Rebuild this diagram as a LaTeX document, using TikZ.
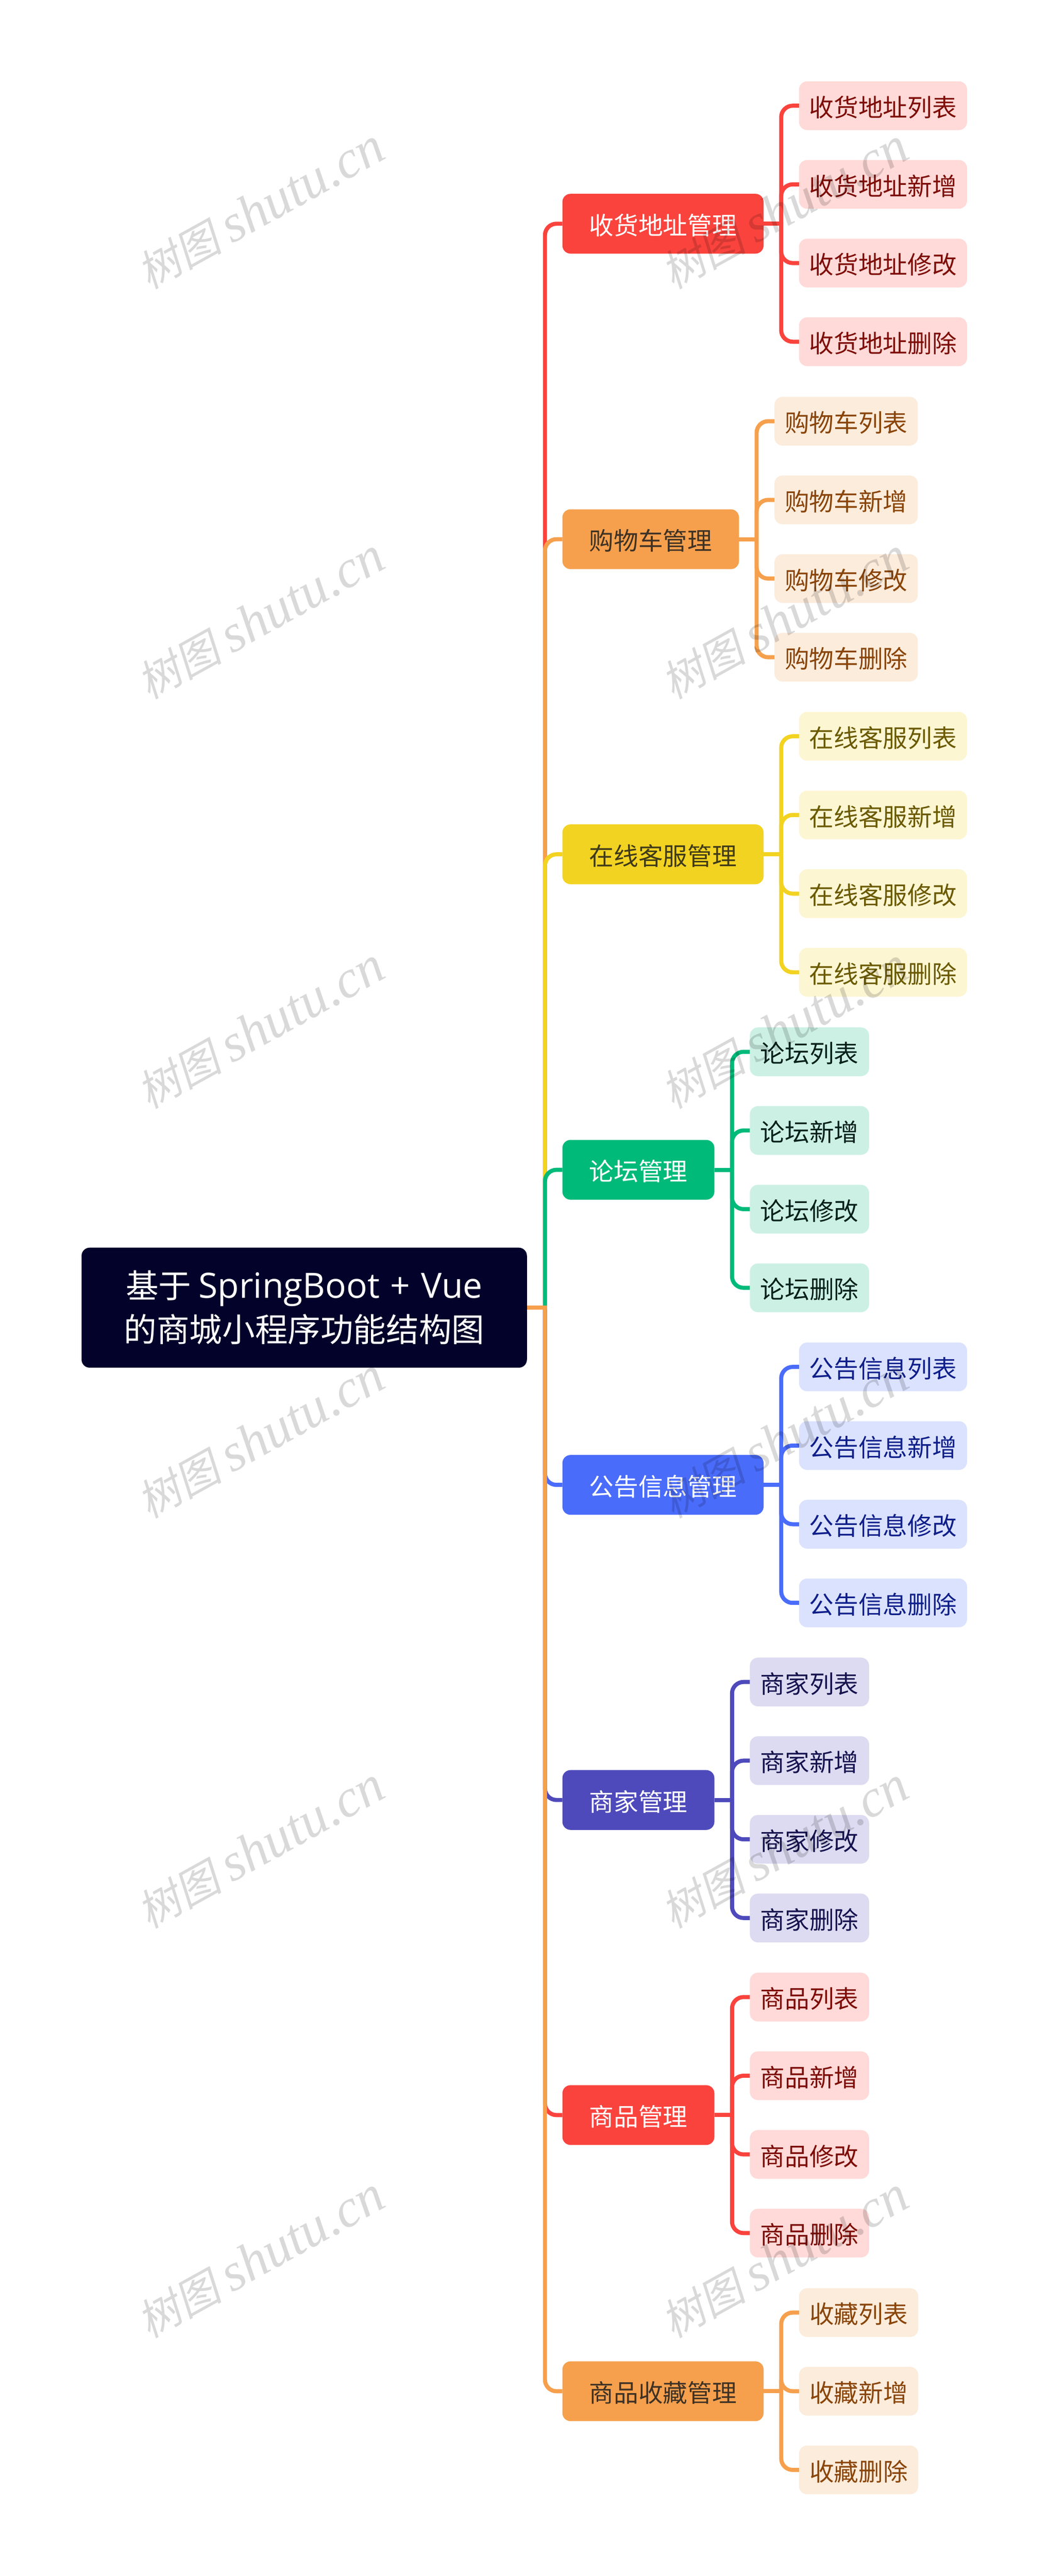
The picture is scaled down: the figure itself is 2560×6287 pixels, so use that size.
\documentclass[tikz,border=0pt]{standalone}
\usepackage{fontspec}
\setmainfont{Noto Sans CJK SC}
\newfontfamily\wmcjk[FakeSlant=0.2]{Noto Sans CJK SC}
\newfontfamily\wmlat{Liberation Serif}
\newfontfamily\rootlat[WordSpace=1.2]{Open Sans}
\definecolor{lineR}{HTML}{FA433D}\definecolor{leafR}{HTML}{FFDAD8}\definecolor{inkR}{HTML}{7E0D08}\definecolor{headR}{HTML}{FFFFFF}
\definecolor{lineO}{HTML}{F6A04D}\definecolor{leafO}{HTML}{FCECDC}\definecolor{inkO}{HTML}{8A4509}\definecolor{headO}{HTML}{3E3226}
\definecolor{lineY}{HTML}{F3D321}\definecolor{leafY}{HTML}{FDF6D3}\definecolor{inkY}{HTML}{6B5A00}\definecolor{headY}{HTML}{3F3A1A}
\definecolor{lineG}{HTML}{00BA7A}\definecolor{leafG}{HTML}{CCF1E4}\definecolor{inkG}{HTML}{06201A}\definecolor{headG}{HTML}{FFFFFF}
\definecolor{lineB}{HTML}{4A6CFB}\definecolor{leafB}{HTML}{DBE2FE}\definecolor{inkB}{HTML}{0F1F8A}\definecolor{headB}{HTML}{FFFFFF}
\definecolor{lineI}{HTML}{4E4ABB}\definecolor{leafI}{HTML}{DCDBF1}\definecolor{inkI}{HTML}{16134F}\definecolor{headI}{HTML}{FFFFFF}
\definecolor{rootfill}{HTML}{02022A}
\tikzset{
  boxbase/.style={inner sep=0pt,outer sep=0pt,rounded corners=10pt,anchor=west,align=center,
    text height=28.4pt,text depth=1.6pt,font=\fontsize{30pt}{36pt}\selectfont},
  headbox/.style={boxbase,minimum height=73pt},
  leafbox/.style={boxbase,minimum height=59.5pt},
  stub/.style={line width=5pt},
  wire/.style={line width=5pt,rounded corners=14pt},
  mark text/.style={text=black,text opacity=0.15,rotate=29,anchor=center,inner sep=0pt}
}
% #1 id, #2 centre y, #3 head width, #4 leaf width, #5 palette, #6 head text, #7 leaf prefix, #8 leaf list
\newcommand{\grp}[8]{%
  \node[headbox,fill=line#5,text=head#5,minimum width={#3*0.5pt}] (g#1) at (1372.5,#2) {#6};
  \draw[wire,draw=line#5] (trunk) |- (g#1.west);
  \draw[stub,draw=line#5] (root.east) -- ([xshift=2.5pt]trunk);
  \coordinate (b#1) at ([xshift=21.5pt]g#1.east);
  \draw[stub,draw=line#5] (g#1.east) -- ([xshift=2.5pt]b#1);
  \foreach \k/\off/\suf in #8 {
    \node[leafbox,fill=leaf#5,text=ink#5,minimum width={#4*0.5pt}] (g#1-\k) at ({1372.5+#3+86.5},{#2+\off}) {#7\suf};
    \draw[wire,draw=line#5] (b#1) |- (g#1-\k.west);
  }
}
\begin{document}
\begin{tikzpicture}[x=0.5pt,y=-0.5pt]
\useasboundingbox[fill=white] (0,0) rectangle (2560,6287);
\node[boxbase,fill=rootfill,text=white,minimum width=543.5pt,minimum height=146.5pt,
  font=\fontsize{40pt}{53.5pt}\selectfont,text height=,text depth=] (root) at (199,3191.5)
  {基于 {\fontsize{42.5pt}{53.5pt}\rootlat SpringBoot + Vue}\\的商城小程序功能结构图};
\coordinate (trunk) at (1330,3191.5);
\grp{1}{546}{491}{410}{R}{收货地址管理}{收货地址}{{1/-288/列表,2/-96/新增,3/96/修改,4/288/删除}}
\grp{2}{1316}{431}{350}{O}{购物车管理}{购物车}{{1/-288/列表,2/-96/新增,3/96/修改,4/288/删除}}
\grp{3}{2085}{491}{410}{Y}{在线客服管理}{在线客服}{{1/-288/列表,2/-96/新增,3/96/修改,4/288/删除}}
\grp{4}{2855}{371}{291}{G}{论坛管理}{论坛}{{1/-288/列表,2/-96/新增,3/96/修改,4/288/删除}}
\grp{5}{3624}{491}{410}{B}{公告信息管理}{公告信息}{{1/-288/列表,2/-96/新增,3/96/修改,4/288/删除}}
\grp{6}{4393}{371}{291}{I}{商家管理}{商家}{{1/-288/列表,2/-96/新增,3/96/修改,4/288/删除}}
\grp{7}{5162}{371}{291}{R}{商品管理}{商品}{{1/-288/列表,2/-96/新增,3/96/修改,4/288/删除}}
\grp{8}{5836}{491}{291}{O}{商品收藏管理}{收藏}{{1/-192/列表,2/0/新增,3/192/删除}}
\foreach \n/\wy in {1/510,2/1510,3/2510,4/3510,5/4510,6/5510}{
  \node[mark text] (wmL\n) at (636,\wy) {\fontsize{52pt}{70pt}\wmcjk 树图 \fontsize{65pt}{70pt}\wmlat\itshape shutu.cn};
  \node[mark text] (wmR\n) at (1915,\wy) {\fontsize{52pt}{70pt}\wmcjk 树图 \fontsize{65pt}{70pt}\wmlat\itshape shutu.cn};
}
\end{tikzpicture}
\end{document}
